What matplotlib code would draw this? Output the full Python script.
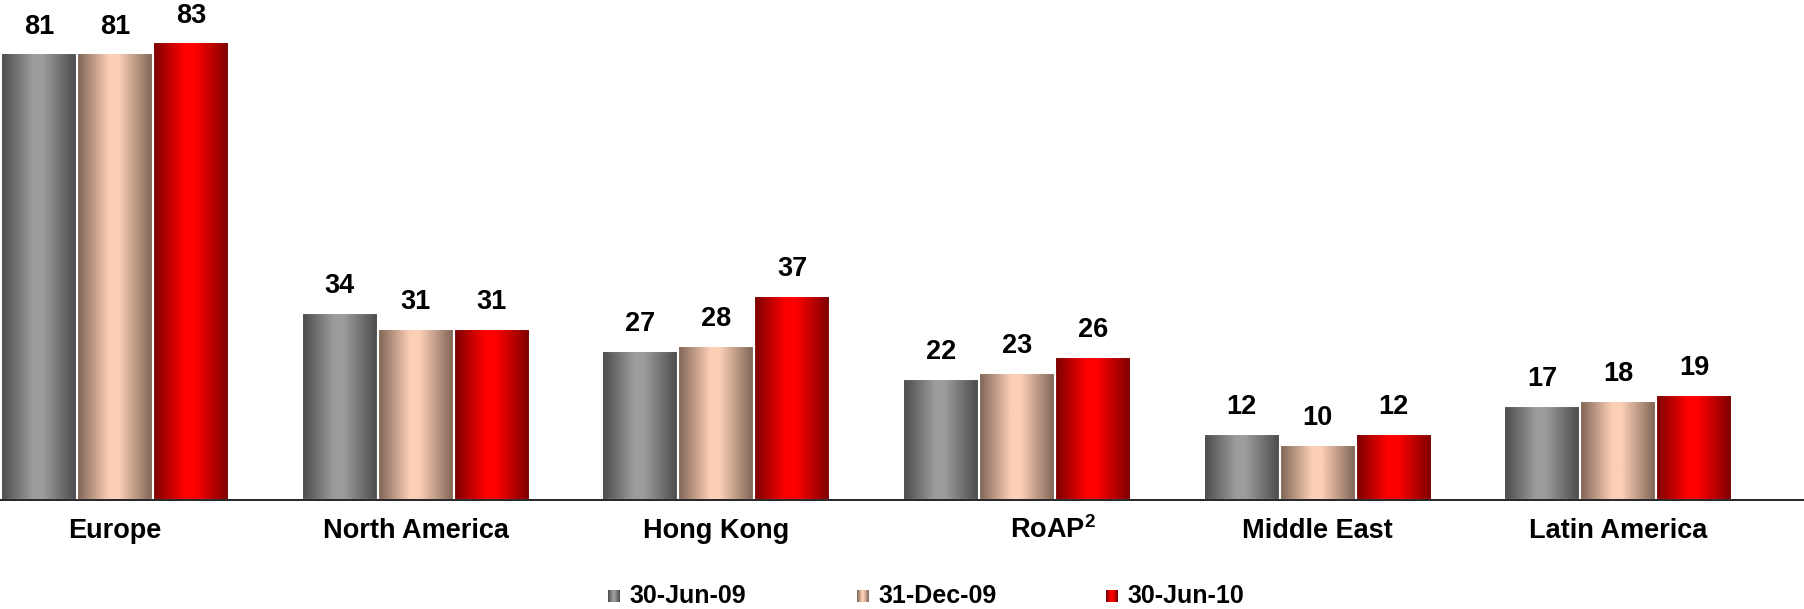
import numpy as np
import matplotlib
matplotlib.use("Agg")
import matplotlib.pyplot as plt
from matplotlib.colors import LinearSegmentedColormap

plt.rcParams['font.family'] = ['Liberation Sans', 'DejaVu Sans']
plt.rcParams['font.weight'] = 'bold'
plt.rcParams['mathtext.fontset'] = 'custom'
plt.rcParams['mathtext.rm'] = 'Liberation Sans:bold'
plt.rcParams['mathtext.bf'] = 'Liberation Sans:bold'

regions = ['Europe', 'North America', 'Hong Kong', r'RoAP$^{\mathbf{2}}$', 'Middle East', 'Latin America']
series = ['30-Jun-09', '31-Dec-09', '30-Jun-10']
jun09 = [81, 34, 27, 22, 12, 17]
dec09 = [81, 31, 28, 23, 10, 18]
jun10 = [83, 31, 37, 26, 12, 19]
values = [jun09, dec09, jun10]

# dark edge -> light middle -> dark edge, like a shaded cylinder
shades = [('#4a4a4a', '#9c9c9c'), ('#7d6253', '#fccfb6'), ('#7a0000', '#ff0000')]
cmaps = [LinearSegmentedColormap.from_list(
    'c%d' % i, [(0, dk), (0.42, lt), (0.55, lt), (1, dk)]) for i, (dk, lt) in enumerate(shades)]
grad = np.linspace(0, 1, 256).reshape(1, -1)

W, H, DPI = 1804, 609, 100
fig = plt.figure(figsize=(W / DPI, H / DPI), dpi=DPI)
ax = fig.add_axes([0, 109 / H, 1, 500 / H])

x = np.arange(len(regions))
bw = 0.2527
for i, vals in enumerate(values):
    xs = x + (i - 1) * bw
    for xc, v in zip(xs, vals):
        ax.imshow(grad, cmap=cmaps[i], aspect='auto', interpolation='bilinear',
                  extent=[xc - bw / 2, xc + bw / 2, 0, v], zorder=2)
        ax.annotate(str(v), xy=(xc, v), xytext=(0, 10), textcoords='offset points',
                    ha='center', va='bottom', fontsize=19.5, fontweight='bold')
    ax.bar(xs, vals, width=bw, facecolor='none', edgecolor='white', linewidth=1.5, zorder=3)

for xc, name in zip(x, regions):
    dx = 26 if name.startswith('RoAP') else 0
    ax.annotate(name, xy=(xc, 0), xytext=(dx, -27), textcoords='offset points',
                ha='center', va='baseline', fontsize=19.5, fontweight='bold')

ax.set_xlim(-0.3825, 5.617)
ax.set_ylim(0, 90.7)
for s in ['top', 'right', 'left']:
    ax.spines[s].set_visible(False)
ax.spines['bottom'].set_linewidth(1.2)
ax.spines['bottom'].set_zorder(4)
ax.set_xticks([])
ax.set_yticks([])

# legend: small shaded squares with labels underneath the chart
for i, name in enumerate(series):
    mx = 608 + i * 249
    lax = fig.add_axes([mx / W, (H - 602) / H, 12 / W, 12 / H])
    lax.imshow(grad, cmap=cmaps[i], aspect='auto')
    lax.axis('off')
    fig.text((mx + 21) / W, (H - 603) / H, name, ha='left', va='baseline',
             fontsize=18, fontweight='bold')

fig.savefig('out.png', dpi=DPI)
